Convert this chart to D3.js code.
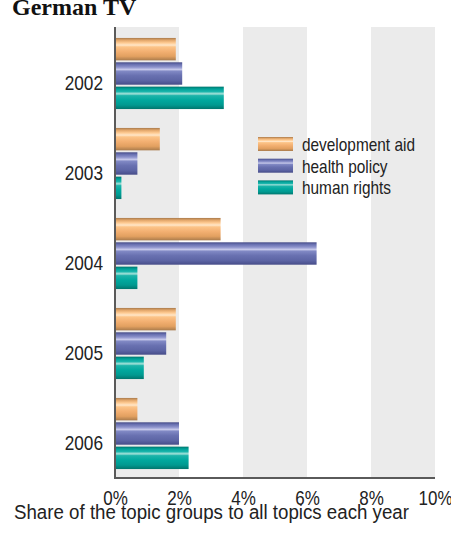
<!DOCTYPE html>
<html>
<head>
    <meta charset="utf-8">
    <title>German TV</title>
    <script src="https://d3js.org/d3.v7.min.js"></script>
    <style>
        body { margin: 0; background: #fff; }
        svg { display: block; }
    </style>
</head>
<body>
<div id="chart"></div>

<script type="text/javascript">

    // values (percent)
    let years = ["2002", "2003", "2004", "2005", "2006"]
    let developmentAid = [1.9, 1.4, 3.3, 1.9, 0.7]
    let healthPolicy = [2.1, 0.7, 6.3, 1.6, 2.0]
    let humanRights = [3.4, 0.2, 0.7, 0.9, 2.3]
    let seriesNames = ["development aid", "health policy", "human rights"]
    let xTicks = [0, 2, 4, 6, 8, 10]
    let grayBands = [[0, 2], [4, 6], [8, 10]]

    let sans = "'Liberation Sans', Arial, sans-serif"

    // the original uses a condensed face: squeeze the regular one
    function narrowText(sel, k) {
        sel.each(function() {
            let w = this.getComputedTextLength()
            d3.select(this)
                .attr("textLength", w * k)
                .attr("lengthAdjust", "spacingAndGlyphs")
        })
    }

    function render() {
        let W = 451, H = 535
        let left = 115, right = 435, top = 27, bottom = 478

        let svg = d3.select("#chart")
            .append("svg")
                .attr("width", W)
                .attr("height", H)

        // glossy stripe gradients for each series
        let gradients = [
            ["grad0", [["0%", "#a97b4c"], ["10%", "#e2a66a"], ["22%", "#ffcb92"], ["32%", "#ffe6c8"], ["40%", "#fcc488"], ["60%", "#f3b072"], ["82%", "#e2a060"], ["100%", "#a97b4c"]]],
            ["grad1", [["0%", "#464c88"], ["10%", "#6a72b2"], ["22%", "#8e94cc"], ["32%", "#c6c8ea"], ["40%", "#8088c4"], ["60%", "#6870b0"], ["82%", "#5c64a4"], ["100%", "#464c88"]]],
            ["grad2", [["0%", "#00756d"], ["10%", "#00a198"], ["22%", "#19b5ab"], ["32%", "#a6e2da"], ["40%", "#1db4aa"], ["60%", "#00a89e"], ["82%", "#009990"], ["100%", "#00756d"]]]
        ]
        let defs = svg.append("defs")
        gradients.forEach(g => {
            let lg = defs.append("linearGradient")
                .attr("id", g[0])
                .attr("x1", 0).attr("y1", 0)
                .attr("x2", 0).attr("y2", 1)
            g[1].forEach(s => lg.append("stop").attr("offset", s[0]).attr("stop-color", s[1]))
        })

        let x = d3.scaleLinear()
            .domain([0, 10])
            .range([left, right])

        let y0 = d3.scaleBand()
            .domain(years)
            .range([top + 1.5, bottom + 0.5])
            .paddingInner(0.21)
            .paddingOuter(0.105)

        let y1 = d3.scaleBand()
            .domain(seriesNames)
            .range([0, y0.bandwidth()])
            .paddingInner(0.08)

        // alternating gray background bands
        svg.selectAll("rect.band")
            .data(grayBands)
            .enter()
            .append("rect")
            .attr("class", "band")
            .attr("x", d => x(d[0]))
            .attr("width", d => x(d[1]) - x(d[0]))
            .attr("y", top)
            .attr("height", bottom - top)
            .attr("fill", "#ebebeb")

        let table = years.map((yr, i) => ({
            year: yr,
            values: [developmentAid[i], healthPolicy[i], humanRights[i]]
        }))

        let groups = svg.selectAll("g.year")
            .data(table)
            .enter()
            .append("g")
            .attr("class", "year")
            .attr("transform", d => "translate(0," + y0(d.year) + ")")

        groups.selectAll("rect")
            .data(d => d.values.map((v, j) => ({ name: seriesNames[j], value: v, j: j })))
            .enter()
            .append("rect")
            .attr("x", x(0))
            .attr("y", d => y1(d.name))
            .attr("width", d => x(d.value) - x(0))
            .attr("height", y1.bandwidth())
            .attr("fill", d => "url(#grad" + d.j + ")")

        // x axis
        let xAxis = d3.axisBottom(x)
            .tickValues(xTicks)
            .tickFormat(d => d + "%")
            .tickSize(0)
            .tickPadding(13)

        let gx = svg.append("g")
            .attr("transform", "translate(0," + bottom + ")")
            .call(xAxis)
        gx.select(".domain").remove()
        gx.selectAll("text")
            .attr("font-family", sans)
            .attr("font-size", "20px")
            .attr("fill", "#222")
            .call(narrowText, 0.85)

        // y axis
        let yAxis = d3.axisLeft(y0)
            .tickSize(0)
            .tickPadding(12)

        let gy = svg.append("g")
            .attr("transform", "translate(" + left + ",0)")
            .call(yAxis)
        gy.select(".domain").remove()
        gy.selectAll("text")
            .attr("dy", "16px")
            .attr("font-family", sans)
            .attr("font-size", "21px")
            .attr("fill", "#222")
            .call(narrowText, 0.82)

        // axis lines
        svg.append("line")
            .attr("x1", left).attr("x2", left)
            .attr("y1", top).attr("y2", bottom + 1)
            .attr("stroke", "#5a5a5a")
            .attr("stroke-width", 2)
        svg.append("line")
            .attr("x1", left - 1).attr("x2", right)
            .attr("y1", bottom).attr("y2", bottom)
            .attr("stroke", "#5a5a5a")
            .attr("stroke-width", 2)

        // legend
        let legend = svg.append("g")
            .attr("transform", "translate(258,137)")
        let items = legend.selectAll("g")
            .data(seriesNames)
            .enter()
            .append("g")
            .attr("transform", (d, i) => "translate(0," + (i * 21.7) + ")")
        items.append("rect")
            .attr("width", 35)
            .attr("height", 14)
            .attr("fill", (d, i) => "url(#grad" + i + ")")
        items.append("text")
            .attr("x", 44)
            .attr("y", 14)
            .attr("font-family", sans)
            .attr("font-size", "19px")
            .attr("fill", "#222")
            .text(d => d)
            .call(narrowText, 0.81)

        // title
        svg.append("text")
            .attr("x", 12)
            .attr("y", 15)
            .attr("font-family", "'Liberation Serif', 'Times New Roman', serif")
            .attr("font-weight", "bold")
            .attr("font-size", "24px")
            .attr("fill", "#111")
            .text("German TV")

        // x axis title
        svg.append("text")
            .attr("x", 14)
            .attr("y", 519)
            .attr("font-family", sans)
            .attr("font-size", "20px")
            .attr("fill", "#222")
            .attr("textLength", 395)
            .attr("lengthAdjust", "spacingAndGlyphs")
            .text("Share of the topic groups to all topics each year")
    }

    render()
</script>
</body>
</html>
